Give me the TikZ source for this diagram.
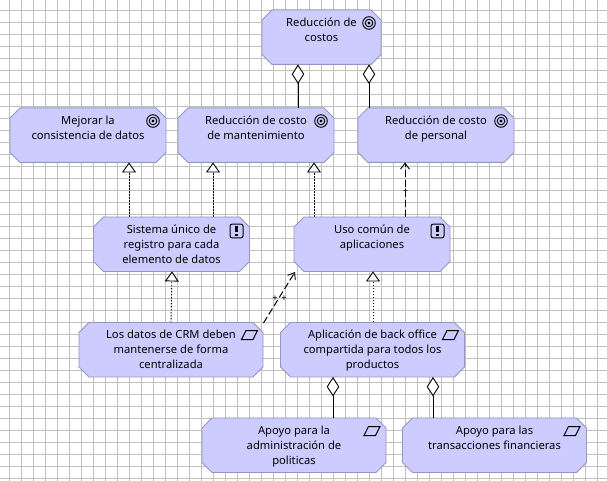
\documentclass[tikz,border=0pt]{standalone}
\usepackage{fontspec}
\setmainfont{Noto Sans}
\usetikzlibrary{arrows.meta}
\definecolor{boxfill}{RGB}{204,204,255}
\definecolor{boxline}{RGB}{150,150,195}
\definecolor{gridc}{RGB}{192,192,192}
\tikzset{
  x=1pt,y=-1pt,
  box/.style={rectangle,inner sep=0pt,outer sep=0pt,minimum width=#1,minimum height=54.5pt},
  boxshape/.style={draw=boxline,fill=boxfill,line width=0.9pt,line join=miter},
  txt/.style={anchor=north,align=center,inner sep=0pt,outer sep=0pt,font=\fontsize{11.2}{15}\selectfont},
  plusmark/.style={inner sep=0pt,font=\fontsize{9.5}{10}\selectfont\bfseries},
  whole/.style={draw=black,line width=1pt,{Diamond[open,fill=white,length=19.5pt,width=12.5pt,line width=0.9pt]}-},
  realize/.style={draw=black,line width=0.9pt,dash pattern=on 1.5pt off 1.5pt,-{Triangle[open,fill=white,length=10pt,width=14pt,line width=0.9pt]}},
  influence/.style={draw=black,line width=1pt,dash pattern=on 7pt off 3pt,-{Straight Barb[length=6pt,width=9pt,line width=0.9pt]}},
  pics/goalicon/.style={code={
    \draw[line width=0.9pt] (0,0) circle (6.3pt);
    \draw[line width=0.9pt] (0,0) circle (3.8pt);
    \fill (0,0) circle (1.6pt);}},
  pics/reqicon/.style={code={
    \draw[line width=1pt,rounded corners=2pt] (-6.5,-6.8) rectangle (6.5,6.8);
    \fill (-1.3,-5) rectangle (1.3,1.4);
    \fill (-1.3,2.8) rectangle (1.3,5.2);}},
  pics/prinicon/.style={code={
    \draw[line width=1pt] (-8,4.5) -- (-3.5,-4.5) -- (8,-4.5) -- (3.5,4.5) -- cycle;}}
}
\newcommand{\chambox}[4]{%
  \node[box=#4] (#1) at (#2,#3) {};
  \draw[boxshape] ([xshift=10pt]#1.north west) -- ([xshift=-10pt]#1.north east)
    -- ([yshift=-10pt]#1.north east) -- ([yshift=10pt]#1.south east)
    -- ([xshift=-10pt]#1.south east) -- ([xshift=10pt]#1.south west)
    -- ([yshift=10pt]#1.south west) -- ([yshift=-10pt]#1.north west) -- cycle;
}
\begin{document}
\begin{tikzpicture}
\useasboundingbox (0,0) rectangle (607,481);
\fill[white] (0,0) rectangle (607,481);
\foreach \gx in {0,...,50} {\draw[gridc,line width=1pt] (9.5+12*\gx,0) -- (9.5+12*\gx,481);}
\foreach \gy in {0,...,39} {\draw[gridc,line width=1pt] (0,10.5+12*\gy) -- (607,10.5+12*\gy);}

% boxes
\chambox{costos}{321.5}{37.2}{119pt}
\chambox{consist}{88}{135.2}{156pt}
\chambox{mant}{256}{135.2}{156pt}
\chambox{pers}{436}{135.2}{156pt}
\chambox{sist}{171.5}{244.2}{156pt}
\chambox{uso}{372}{244.2}{156pt}
\chambox{crm}{171}{349.7}{184pt}
\chambox{back}{372.5}{349.7}{184pt}
\chambox{polit}{294}{445.2}{184pt}
\chambox{trans}{494.5}{445.2}{184pt}

% labels
\node[txt] (tcostos) at (321.5,17.5) {Reducción de\\costos};
\node[txt] (tconsist) at (88,115.5) {Mejorar la\\consistencia de datos};
\node[txt] (tmant) at (256,115.5) {Reducción de costo\\de mantenimiento};
\node[txt] (tpers) at (436,115.5) {Reducción de costo\\de personal};
\node[txt] (tsist) at (171.5,224.5) {Sistema único de\\registro para cada\\elemento de datos};
\node[txt] (tuso) at (372,224.5) {Uso común de\\aplicaciones};
\node[txt] (tcrm) at (171,329.5) {Los datos de CRM deben\\mantenerse de forma\\centralizada};
\node[txt] (tback) at (372.5,329.5) {Aplicación de back office\\compartida para todos los\\productos};
\node[txt] (tpolit) at (294,425.5) {Apoyo para la\\administración de\\politicas};
\node[txt] (ttrans) at (494.5,425.5) {Apoyo para las\\transacciones financieras};

% icons
\pic at (369,23) {goalicon};
\pic at (153,121) {goalicon};
\pic at (321,121) {goalicon};
\pic at (501,121) {goalicon};
\pic at (236.5,231) {reqicon};
\pic at (437.5,231) {reqicon};
\pic at (249.5,335) {prinicon};
\pic at (450.5,335) {prinicon};
\pic at (372,431) {prinicon};
\pic at (572,431) {prinicon};

% connectors
\draw[whole] ([xshift=-23.5pt]costos.south) -- ([xshift=42pt]mant.north);
\draw[whole] ([xshift=47.5pt]costos.south) -- ([xshift=-67pt]pers.north);
\draw[realize] ([xshift=-42.5pt]sist.north) -- ([xshift=41pt]consist.south);
\draw[realize] ([xshift=41.5pt]sist.north) -- ([xshift=-43pt]mant.south);
\draw[realize] ([xshift=-58pt]uso.north) -- ([xshift=58pt]mant.south);
\draw[influence] ([xshift=33pt]uso.north) -- ([xshift=-31pt]pers.south);
\node[plusmark] (p1) at (405.5,191.5) {+};
\draw[realize] (crm.north) -- ([xshift=0.5pt]sist.south);
\draw[realize] ([xshift=0.5pt]back.north) -- ([xshift=1pt]uso.south);
\coordinate (crmout) at (263.5,323);
\coordinate (usoin) at (295,272);
\draw[influence] (crmout) -- (usoin);
\node[plusmark] (p2) at (275,299) {+};
\node[plusmark] (p3) at (284,299) {+};
\draw[whole] ([xshift=-39.5pt]back.south) -- ([xshift=39pt]polit.north);
\draw[whole] ([xshift=60.5pt]back.south) -- ([xshift=-61.5pt]trans.north);
\end{tikzpicture}
\end{document}
